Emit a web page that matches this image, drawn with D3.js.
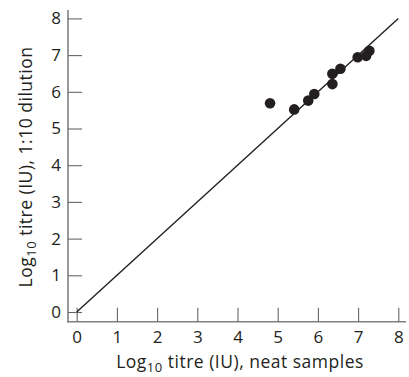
<!DOCTYPE html>
<html><head><meta charset="utf-8">
<script src="https://cdn.jsdelivr.net/npm/d3@7"></script>
<style>body{margin:0;background:#fff}svg{display:block}text{font-family:"Open Sans",sans-serif}</style>
</head><body>
<svg id="c" width="409" height="377"></svg>
<script>
const xVals = [4.81, 5.41, 5.76, 5.91, 6.36, 6.36, 6.56, 6.99, 7.20, 7.28];
const yVals = [5.69, 5.52, 5.76, 5.94, 6.21, 6.49, 6.63, 6.94, 6.98, 7.12];
const lineX = [0, 8];
const lineY = [0, 8];
const xTicks = [0, 1, 2, 3, 4, 5, 6, 7, 8];
const yTicks = [0, 1, 2, 3, 4, 5, 6, 7, 8];

const svg = d3.select("#c");
const x = d3.scaleLinear().domain([0, 8]).range([76.7, 398.3]);
const y = d3.scaleLinear().domain([0, 8]).range([312, 18.4]);
const axisX0 = 68, axisY0 = 321.7;
const axisCol = "#808080";

svg.append("line").attr("x1", axisX0).attr("x2", axisX0).attr("y1", 10).attr("y2", axisY0 + 0.8)
  .attr("stroke", axisCol).attr("stroke-width", 1.6);
svg.append("line").attr("x1", axisX0 - 0.8).attr("x2", 406).attr("y1", axisY0).attr("y2", axisY0)
  .attr("stroke", axisCol).attr("stroke-width", 1.6);

const gx = svg.append("g").attr("transform", `translate(0,${axisY0})`)
  .call(d3.axisBottom(x).tickValues(xTicks).tickSize(-14).tickPadding(9).tickFormat(d3.format("d")));
const gy = svg.append("g").attr("transform", `translate(${axisX0},0)`)
  .call(d3.axisLeft(y).tickValues(yTicks).tickSize(-14).tickPadding(7).tickFormat(d3.format("d")));
[gx, gy].forEach(g => {
  g.select(".domain").remove();
  g.selectAll(".tick line").attr("stroke", "#666").attr("stroke-width", 1.1);
  g.selectAll(".tick text").attr("fill", "#231f20").style("font-size", "17px").style("font-family", "'Open Sans', sans-serif");
});

svg.append("line")
  .attr("x1", x(lineX[0])).attr("y1", y(lineY[0]))
  .attr("x2", x(lineX[1])).attr("y2", y(lineY[1]))
  .attr("stroke", "#231f20").attr("stroke-width", 1.4);

svg.selectAll("circle.pt").data(xVals.map((v, i) => [v, yVals[i]])).enter()
  .append("circle").attr("class", "pt")
  .attr("cx", d => x(d[0])).attr("cy", d => y(d[1])).attr("r", 5.3)
  .attr("fill", "#231f20");

const xt = svg.append("text").attr("x", 240).attr("y", 367.5).attr("text-anchor", "middle")
  .attr("fill", "#231f20").style("font-size", "17.5px").style("letter-spacing", "0.5px");
xt.append("tspan").text("Log");
xt.append("tspan").attr("dy", 4).style("font-size", "13px").text("10");
xt.append("tspan").attr("dy", -4).text(" titre (IU), neat samples");

const yt = svg.append("text").attr("transform", "translate(32,167) rotate(-90)").attr("text-anchor", "middle")
  .attr("fill", "#231f20").style("font-size", "17.5px").style("letter-spacing", "0.5px");
yt.append("tspan").text("Log");
yt.append("tspan").attr("dy", 4).style("font-size", "13px").text("10");
yt.append("tspan").attr("dy", -4).text(" titre (IU), 1:10 dilution");
</script>
</body></html>
